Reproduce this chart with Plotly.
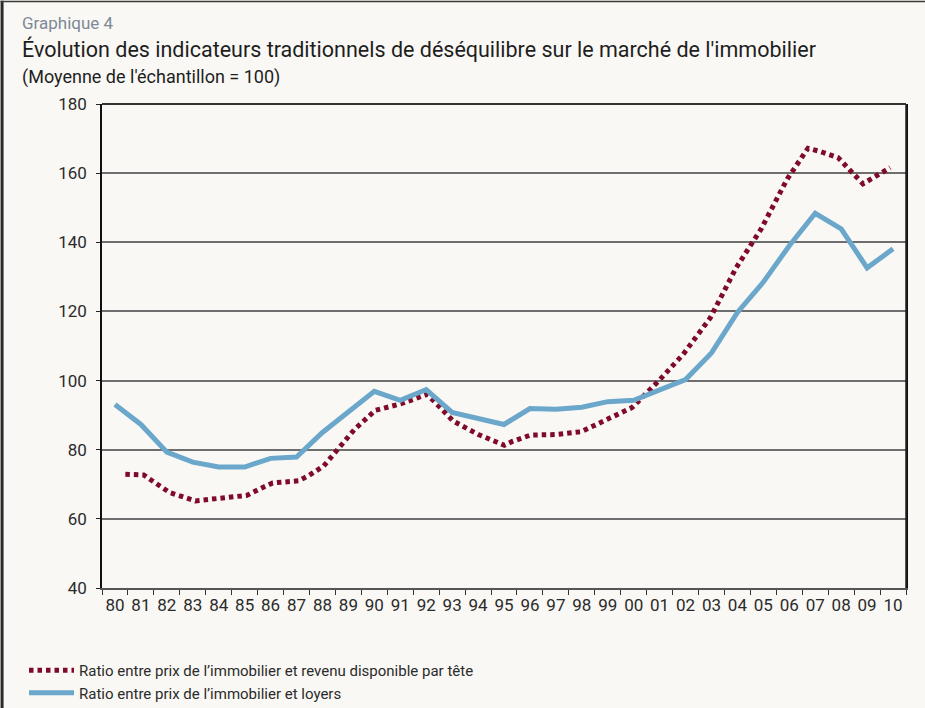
import plotly.graph_objects as go

# ---- data ----
years = list(range(1980, 2011))
tick_labels = ["80", "81", "82", "83", "84", "85", "86", "87", "88", "89",
               "90", "91", "92", "93", "94", "95", "96", "97", "98", "99",
               "00", "01", "02", "03", "04", "05", "06", "07", "08", "09", "10"]

loyers = [93.1, 87.3, 79.3, 76.4, 75.0, 75.0, 77.5, 77.9, 85.0, 91.0,
          96.9, 94.3, 97.4, 90.8, 89.0, 87.3, 91.9, 91.7, 92.3, 93.9,
          94.3, 97.4, 100.3, 108.0, 119.7, 128.5, 139.0, 148.4, 143.9, 132.6, 138.1]

revenu_x = [1980.40, 1981.11, 1981.24, 1982.11, 1983.10, 1984.09, 1985.09, 1985.76,
            1986.08, 1987.08, 1987.47, 1988.05, 1988.62, 1989.24, 1990.04, 1991.03,
            1991.70, 1992.04, 1992.54, 1993.04, 1994.01, 1995.01, 1995.32, 1996.01,
            1996.98, 1997.63, 1997.98, 1998.98, 1999.94, 2000.95, 2001.91, 2002.95,
            2003.95, 2004.91, 2005.92, 2006.72, 2007.22, 2007.88, 2008.65, 2008.84,
            2009.58, 2009.89]
revenu = [72.9, 72.7, 72.0, 67.6, 65.2, 66.0, 66.8, 69.3,
          70.4, 71.0, 72.5, 75.3, 80.4, 85.9, 91.4, 93.3,
          95.1, 96.0, 92.2, 88.3, 84.4, 81.3, 82.4, 84.2,
          84.4, 85.0, 85.2, 88.8, 92.2, 99.8, 107.6, 118.1,
          132.6, 143.8, 158.3, 167.2, 166.2, 164.5, 158.6, 156.9,
          160.2, 161.6]

y_ticks = [40, 60, 80, 100, 120, 140, 160, 180]

name_revenu = "Ratio entre prix de l’immobilier et revenu disponible par tête"
name_loyers = "Ratio entre prix de l’immobilier et loyers"

# ---- styling ----
BG = "#f9f8f4"
RED = "#800a2a"
BLUE = "#6aa7cb"
FONT = "Roboto, 'DejaVu Sans', sans-serif"
TXT = "#2b2b2b"

W, H = 925, 708
L, R, T, B = 101.5, 19, 103.5, 119.5
pw = W - L - R
ph = H - T - B


def px_x(p):
    return (p - L) / pw


def px_y(p):
    return (H - B - p) / ph


fig = go.Figure()
fig.add_trace(go.Scatter(
    x=revenu_x, y=revenu, mode="lines", name=name_revenu,
    line=dict(color=RED, width=5, dash="4.5px,4px"),
))
fig.add_trace(go.Scatter(
    x=years, y=loyers, mode="lines", name=name_loyers,
    line=dict(color=BLUE, width=5),
))

fig.update_layout(
    width=W, height=H,
    paper_bgcolor=BG, plot_bgcolor=BG,
    margin=dict(l=L, r=R, t=T, b=B, autoexpand=False),
    font=dict(family=FONT, color=TXT),
    showlegend=True,
    legend=dict(
        xref="container", yref="container",
        x=24 / W, y=1 - 654 / H, xanchor="left", yanchor="top",
        bgcolor="rgba(0,0,0,0)", font=dict(size=15, color=TXT, family=FONT),
        tracegroupgap=0, itemwidth=45,
    ),
    xaxis=dict(
        range=[1979.5, 2010.5],
        tickmode="array", tickvals=years, ticktext=tick_labels,
        ticks="", tickfont=dict(size=17, color=TXT),
        ticklabelstandoff=1,
        showgrid=False, zeroline=False,
        showline=True, linecolor="#555555", linewidth=2, mirror=False,
        minor=dict(ticks="outside", ticklen=5, tickwidth=1, tickcolor="#333333",
                   tick0=1979.5, dtick=1, showgrid=False),
    ),
    yaxis=dict(
        range=[40, 180],
        tickmode="array", tickvals=y_ticks,
        ticks="outside", ticklen=4, tickcolor="#222222", tickwidth=1,
        tickfont=dict(size=17, color=TXT),
        ticklabelstandoff=6,
        showgrid=True, gridcolor="#6e6e6e", gridwidth=1.6,
        zeroline=False,
        showline=True, linecolor="#111111", linewidth=1.5, mirror=True,
    ),
    shapes=[
        dict(type="line", xref="paper", yref="paper",
             x0=px_x(906), x1=px_x(906), y0=0, y1=1,
             line=dict(color="#222222", width=1.5)),
        dict(type="line", xref="paper", yref="paper",
             x0=0, x1=1, y0=1, y1=1,
             line=dict(color="#333333", width=1.8)),
        dict(type="rect", xref="paper", yref="paper",
             x0=px_x(0), x1=px_x(3), y0=px_y(740), y1=px_y(0),
             line=dict(width=0), fillcolor="#2a2a2a", layer="above"),
        dict(type="rect", xref="paper", yref="paper",
             x0=px_x(0), x1=px_x(925), y0=px_y(1.5), y1=px_y(0),
             line=dict(width=0), fillcolor="#3a3a3a", layer="above"),
    ],
    annotations=[
        dict(text="Graphique 4", xref="paper", yref="paper",
             x=px_x(19), y=px_y(22), xanchor="left", yanchor="middle",
             showarrow=False, font=dict(size=17, color="#7d8996", family=FONT)),
        dict(text="Évolution des indicateurs traditionnels de déséquilibre sur le marché de l'immobilier",
             xref="paper", yref="paper",
             x=px_x(19), y=px_y(48), xanchor="left", yanchor="middle",
             showarrow=False, font=dict(size=21.5, color="#1e1e1e", family=FONT)),
        dict(text="(Moyenne de l'échantillon = 100)", xref="paper", yref="paper",
             x=px_x(19), y=px_y(76), xanchor="left", yanchor="middle",
             showarrow=False, font=dict(size=18, color="#1e1e1e", family=FONT)),
    ],
)

fig.write_html("out.html", config={"displayModeBar": False},
               post_script="document.body.style.margin='0';")
